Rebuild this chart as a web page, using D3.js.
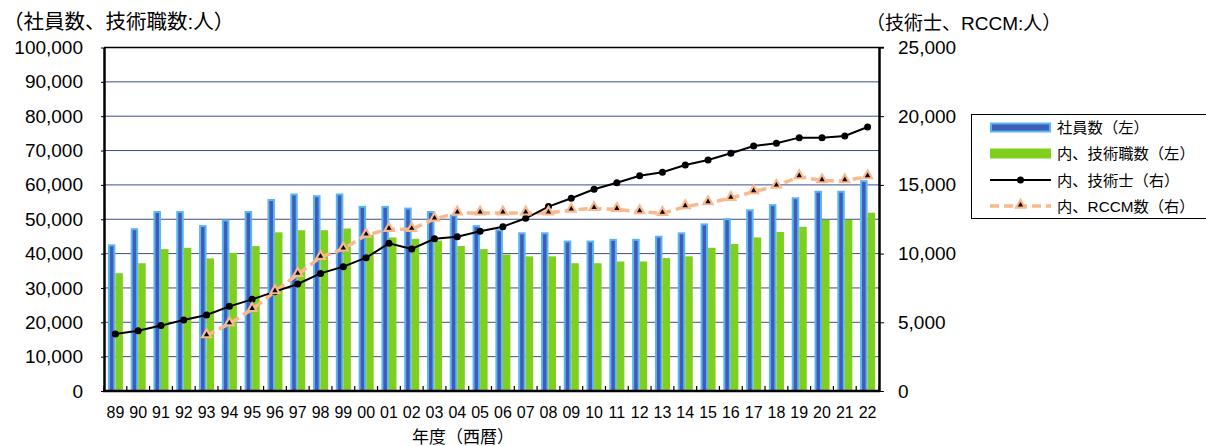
<!DOCTYPE html>
<html>
<head>
<meta charset="utf-8">
<script src="https://cdn.jsdelivr.net/npm/d3@7"></script>
<style>
  body { margin: 0; background: #fff; }
  text { font-family: "Liberation Sans", "Noto Sans CJK JP", sans-serif; fill: #000; }
</style>
</head>
<body>
<div id="chart"></div>
<script>
// data
const years = ["89","90","91","92","93","94","95","96","97","98","99","00","01","02","03","04","05",
               "06","07","08","09","10","11","12","13","14","15","16","17","18","19","20","21","22"];

// 社員数 (left axis)
const employees = [42700, 47400, 52400, 52400, 48300, 49900, 52400, 55900, 57500, 57000, 57500,
                   53900, 53900, 53400, 52400, 51400, 48300, 47100, 46200, 46200, 43800, 43800,
                   44300, 44300, 45200, 46200, 48800, 50300, 52900, 54400, 56400, 58300, 58300, 61400];

// 内、技術職数 (left axis)
const engineers = [34300, 37200, 41300, 41700, 38600, 40200, 42200, 46200, 46800, 46800, 47300,
                   45400, 44700, 44300, 43800, 42200, 41300, 39700, 39200, 39200, 37200, 37200,
                   37700, 37700, 38700, 39200, 41700, 42800, 44700, 46300, 47800, 49800, 49800, 51900];

// 内、技術士 (right axis)
const pe = [4150, 4390, 4760, 5170, 5530, 6160, 6670, 7230, 7790, 8560, 9050, 9700, 10750, 10340,
            11080, 11230, 11620, 11960, 12570, 13420, 14030, 14680, 15160, 15670, 15920, 16450,
            16810, 17300, 17830, 18030, 18440, 18440, 18560, 19210];

// 内、RCCM数 (right axis), starts in 93
const rccm = [null, null, null, null, 4030, 4900, 5940, 7230, 8490, 9730, 10340, 11350, 11770, 11770,
              12520, 12960, 12960, 12960, 12960, 12960, 13170, 13290, 13220, 13050, 12930, 13420,
              13710, 14030, 14510, 14920, 15600, 15310, 15310, 15600];

const leftTicks = d3.range(0, 100001, 10000);
const rightTicks = d3.range(0, 25001, 5000);

const legendLabels = ["社員数（左）", "内、技術職数（左）", "内、技術士（右）", "内、RCCM数（右）"];

// layout
const W = 1206, H = 446;
const plot = {left: 104, right: 879, top: 47.5, bottom: 391};

const svg = d3.select("#chart").append("svg")
    .attr("width", W)
    .attr("height", H);

// scales
const x = d3.scaleBand()
    .domain(years)
    .range([plot.left, plot.right])
    .paddingInner(0.34)
    .paddingOuter(0.17);

const xSub = d3.scaleBand()
    .domain(["emp", "eng"])
    .range([0, x.bandwidth()]);

const yL = d3.scaleLinear().domain([0, 100000]).range([plot.bottom, plot.top]);
const yR = d3.scaleLinear().domain([0, 25000]).range([plot.bottom, plot.top]);

const fmt = d3.format(",");

// gridlines
svg.append("g")
    .selectAll("line")
    .data(leftTicks.filter(d => d > 0 && d < 100000))
    .join("line")
    .attr("x1", plot.left).attr("x2", plot.right)
    .attr("y1", d => yL(d)).attr("y2", d => yL(d))
    .attr("stroke", "#3e4e86")
    .attr("stroke-width", 1);

// top frame line
svg.append("line")
    .attr("x1", plot.left).attr("x2", plot.right + 5)
    .attr("y1", plot.top).attr("y2", plot.top)
    .attr("stroke", "#000").attr("stroke-width", 1.5);

// bars
const bars = svg.append("g");
years.forEach((yr, i) => {
    const x0 = x(yr);
    bars.append("rect")
        .attr("x", x0 + xSub("emp") + 1)
        .attr("y", yL(employees[i]) + 1)
        .attr("width", xSub.bandwidth() - 2)
        .attr("height", plot.bottom - yL(employees[i]) - 1)
        .attr("fill", "#3f5cb8")
        .attr("stroke", "#5ab6f2")
        .attr("stroke-width", 2);
    bars.append("rect")
        .attr("x", x0 + xSub("eng"))
        .attr("y", yL(engineers[i]))
        .attr("width", xSub.bandwidth())
        .attr("height", plot.bottom - yL(engineers[i]))
        .attr("fill", "#7fcf1e");
});

// axes
const xAxis = d3.axisBottom(x).tickSize(0).tickPadding(16);
const gx = svg.append("g")
    .attr("transform", `translate(0,${plot.bottom})`)
    .call(xAxis);
gx.select(".domain").remove();
gx.selectAll("text").attr("font-size", 16);

// x ticks at band boundaries (pointing up)
svg.append("g")
    .selectAll("line")
    .data(d3.range(years.length + 1))
    .join("line")
    .attr("x1", i => plot.left + i * x.step())
    .attr("x2", i => plot.left + i * x.step())
    .attr("y1", plot.bottom).attr("y2", plot.bottom - 5)
    .attr("stroke", "#000").attr("stroke-width", 1.2);

const gyL = svg.append("g")
    .attr("transform", `translate(${plot.left},0)`)
    .call(d3.axisLeft(yL).tickValues(leftTicks).tickFormat(fmt).tickSize(3).tickSizeOuter(0).tickPadding(18));
gyL.select(".domain").attr("stroke-width", 2.5);
gyL.selectAll("text").attr("font-size", 19);

const gyR = svg.append("g")
    .attr("transform", `translate(${plot.right},0)`)
    .call(d3.axisRight(yR).tickValues(rightTicks).tickFormat(fmt).tickSize(5).tickSizeOuter(0).tickPadding(14));
gyR.select(".domain").attr("stroke-width", 2.5);
gyR.selectAll("text").attr("font-size", 19);

// bottom axis line
svg.append("line")
    .attr("x1", plot.left - 1).attr("x2", plot.right + 1)
    .attr("y1", plot.bottom).attr("y2", plot.bottom)
    .attr("stroke", "#000").attr("stroke-width", 2.5);

const cx = i => x(years[i]) + x.bandwidth() / 2;

// RCCM line (dashed, orange)
const rccmLine = d3.line()
    .defined(d => d != null)
    .x((d, i) => cx(i))
    .y(d => yR(d));

svg.append("path")
    .datum(rccm)
    .attr("d", rccmLine)
    .attr("fill", "none")
    .attr("stroke", "#fab88c")
    .attr("stroke-width", 3.5)
    .attr("stroke-dasharray", "9,5");

// 技術士 line
const peLine = d3.line()
    .x((d, i) => cx(i))
    .y(d => yR(d));

svg.append("path")
    .datum(pe)
    .attr("d", peLine)
    .attr("fill", "none")
    .attr("stroke", "#000")
    .attr("stroke-width", 2);

svg.append("g")
    .selectAll("circle")
    .data(pe)
    .join("circle")
    .attr("cx", (d, i) => cx(i))
    .attr("cy", d => yR(d))
    .attr("r", 3.5)
    .attr("fill", "#000");

// RCCM markers
const triBig = d3.symbol(d3.symbolTriangle, 70);
const triSmall = d3.symbol(d3.symbolTriangle, 12);
const rccmPts = rccm.map((d, i) => ({v: d, i})).filter(d => d.v != null);
const mk = svg.append("g")
    .selectAll("g")
    .data(rccmPts)
    .join("g")
    .attr("transform", d => `translate(${cx(d.i)},${yR(d.v) - 1})`);
mk.append("path").attr("d", triBig).attr("fill", "#fab88c");
mk.append("path").attr("d", triSmall).attr("fill", "#000");

// titles
svg.append("text")
    .attr("x", 3).attr("y", 29)
    .attr("font-size", 20.5)
    .text("（社員数、技術職数:人）");

svg.append("text")
    .attr("x", 866).attr("y", 30)
    .attr("font-size", 19)
    .text("（技術士、RCCM:人）");

svg.append("text")
    .attr("x", 463).attr("y", 443)
    .attr("text-anchor", "middle")
    .attr("font-size", 17)
    .text("年度（西暦）");

// legend
const lg = svg.append("g");
lg.append("rect")
    .attr("x", 971.5).attr("y", 114.5)
    .attr("width", 240).attr("height", 104)
    .attr("fill", "#fff")
    .attr("stroke", "#000");

const rowY = [127.5, 153.5, 180, 206];
const sx0 = 990, sx1 = 1051;

lg.append("rect")
    .attr("x", sx0 + 1).attr("y", rowY[0] - 4)
    .attr("width", sx1 - sx0 - 2).attr("height", 8)
    .attr("fill", "#3f5cb8").attr("stroke", "#5ab6f2").attr("stroke-width", 2);
lg.append("rect")
    .attr("x", sx0).attr("y", rowY[1] - 5)
    .attr("width", sx1 - sx0).attr("height", 10)
    .attr("fill", "#7fcf1e");
lg.append("line")
    .attr("x1", sx0).attr("x2", sx1)
    .attr("y1", rowY[2]).attr("y2", rowY[2])
    .attr("stroke", "#000").attr("stroke-width", 2);
lg.append("circle")
    .attr("cx", (sx0 + sx1) / 2).attr("cy", rowY[2]).attr("r", 3.5).attr("fill", "#000");
lg.append("line")
    .attr("x1", sx0).attr("x2", sx1)
    .attr("y1", rowY[3]).attr("y2", rowY[3])
    .attr("stroke", "#fab88c").attr("stroke-width", 3.5).attr("stroke-dasharray", "9,5");
lg.append("path").attr("d", triBig)
    .attr("transform", `translate(${(sx0 + sx1) / 2},${rowY[3] - 1})`).attr("fill", "#fab88c");
lg.append("path").attr("d", triSmall)
    .attr("transform", `translate(${(sx0 + sx1) / 2},${rowY[3] - 1})`).attr("fill", "#000");

lg.selectAll(".lbl")
    .data(legendLabels)
    .join("text")
    .attr("class", "lbl")
    .attr("x", 1057)
    .attr("y", (d, i) => rowY[i])
    .attr("dy", "0.36em")
    .attr("font-size", 15.3)
    .text(d => d);
</script>
</body>
</html>
